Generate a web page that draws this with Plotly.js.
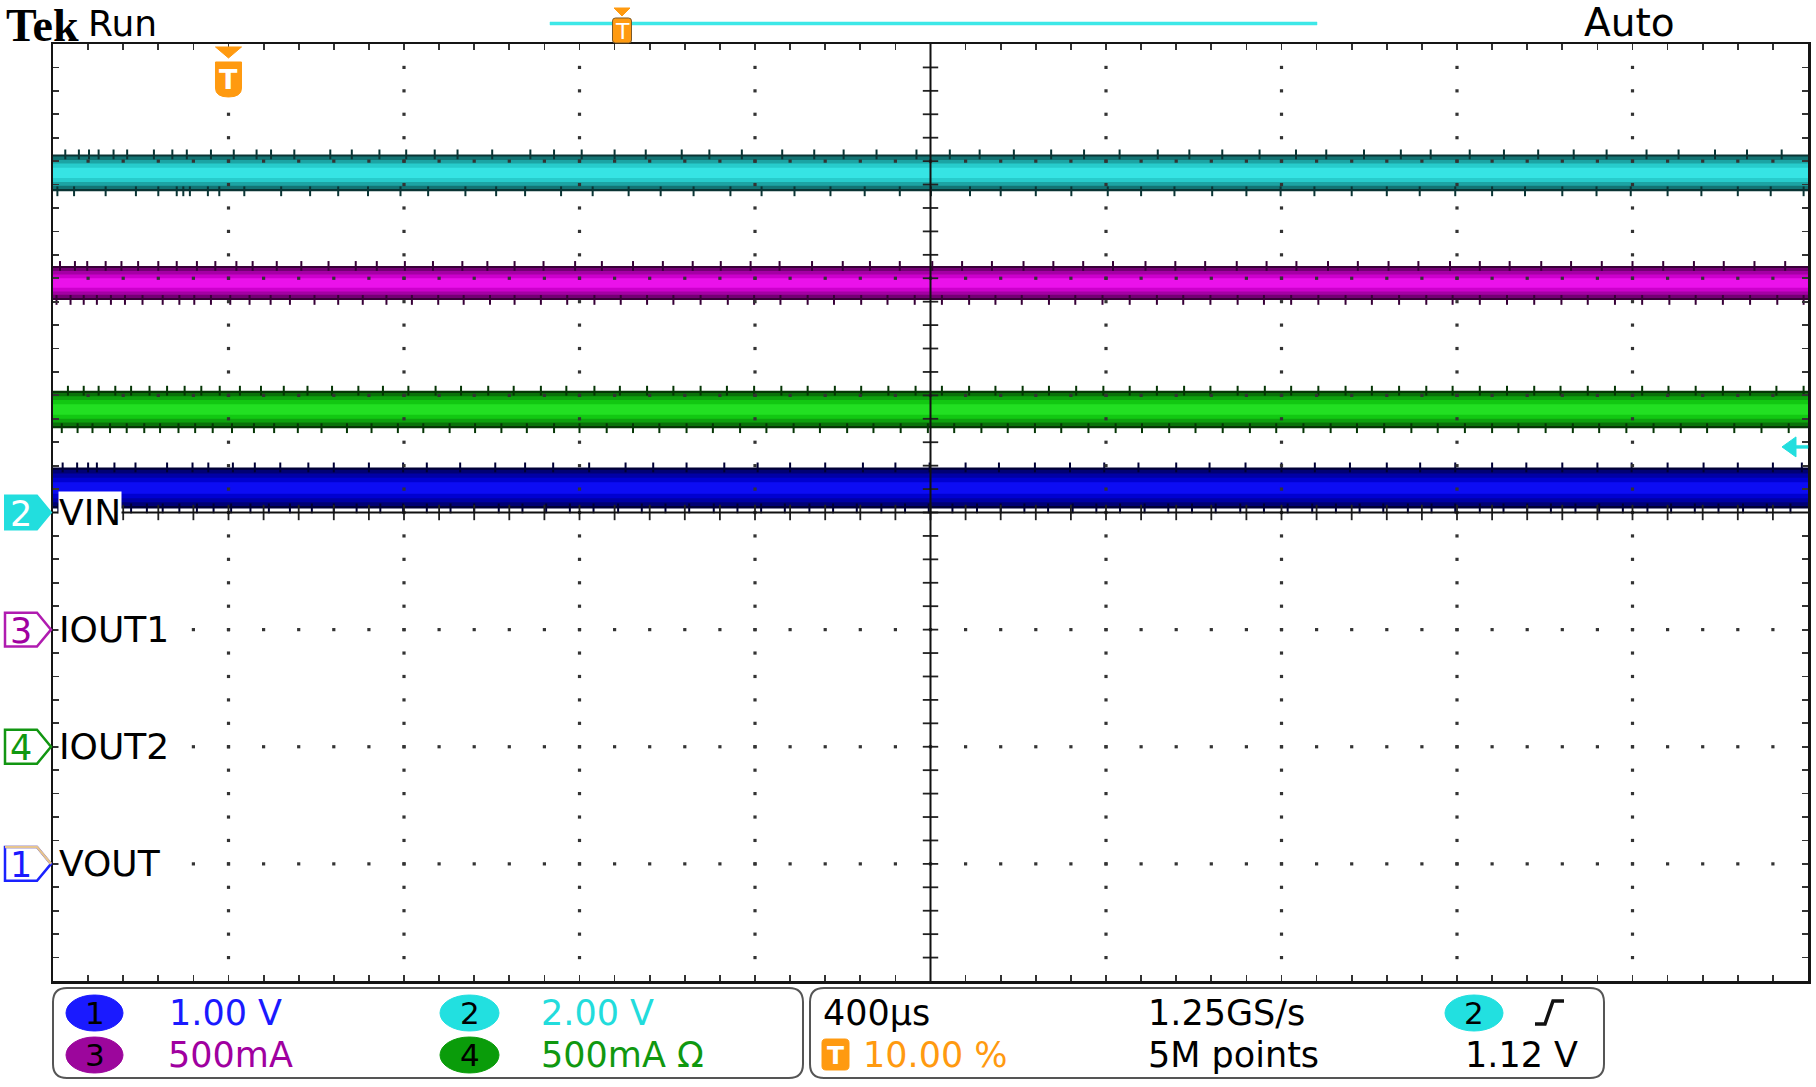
<!DOCTYPE html>
<html><head><meta charset="utf-8">
<script src="https://cdn.plot.ly/plotly-3.0.1.min.js"></script>
<style>html,body{margin:0;padding:0;background:#fff;}#chart{width:1816px;height:1087px;}</style>
</head><body><div id="chart"></div>
<script>
// ---------------- DATA ----------------
const channelLabels = ['VIN', 'IOUT1', 'IOUT2', 'VOUT'];
const channelNumbers = [2, 3, 4, 1];
const channelScale = [2.00, 0.5, 0.5, 1.00];      // units per division
const channelScaleText = ['2.00 V', '500mA', '500mA Ω', '1.00 V'];
const channelOffsetDiv = [0, -1, -2, -3];         // ground reference marker (div)
const channelMean = [5.80, 1.48, 1.44, 3.21];     // V, A, A, V
const channelPkPk = [0.63, 0.145, 0.16, 0.35];    // peak-to-peak noise band
const timePerDiv = 400;                           // µs / div
const triggerPercent = 10.00;
const triggerLevel = 1.12;                        // V on CH2
const sampleRateText = '1.25GS/s';
const recordText = '5M points';

// noise spike positions (µs) on the upper / lower edge of each band
const vinSpikesTop = [-372,-341,-318,-296,-262,-231,-170,-128,-95,-40,12,64,97,150,232,281,344,405,470,522,601,688,742,805,880,951,1033,1096,1170,1262,1335,1402,1477,1568,1644,1712,1790,1875,1950,2031,2118,2190,2265,2350,2433,2502,2588,2672,2740,2829,2907,2985,3066,3141,3232,3305,3388,3461,3540];
const vinSpikesBot = [-390,-352,-280,-211,-160,-118,-103,-88,-47,-21,36,120,186,250,318,392,455,540,610,676,758,830,912,985,1060,1144,1215,1290,1372,1450,1530,1601,1690,1760,1840,1921,2004,2080,2156,2242,2320,2398,2475,2560,2640,2715,2796,2880,2955,3040,3118,3196,3280,3357,3440,3515,3590];
const iout1SpikesTop = [-384,-350,-322,-280,-244,-206,-160,-118,-72,-30,18,55,110,166,228,290,338,402,466,533,590,652,718,790,851,922,990,1058,1122,1190,1256,1330,1400,1462,1530,1604,1672,1740,1812,1880,1948,2016,2090,2158,2226,2298,2366,2434,2506,2574,2644,2712,2784,2852,2920,2992,3060,3130,3200,3270,3340,3408,3478,3548];
const iout1SpikesBot = [-392,-360,-330,-300,-268,-236,-196,-150,-112,-78,-40,4,48,96,140,196,250,306,360,418,478,536,596,652,712,772,834,894,954,1014,1076,1138,1198,1258,1320,1380,1442,1502,1564,1626,1688,1748,1808,1870,1930,1992,2054,2116,2176,2238,2300,2360,2422,2484,2546,2606,2668,2730,2790,2852,2914,2976,3038,3098,3160,3222,3284,3344,3406,3468,3530,3590];
const iout2SpikesTop = [-366,-330,-296,-258,-222,-180,-140,-100,-62,-20,26,74,126,180,236,296,352,410,472,530,592,650,712,770,834,892,954,1014,1076,1136,1198,1260,1320,1382,1442,1504,1566,1626,1688,1748,1810,1870,1932,1994,2054,2116,2178,2238,2300,2362,2422,2484,2546,2606,2668,2730,2790,2852,2914,2976,3036,3098,3160,3222,3282,3344,3406,3468,3528,3590];
const iout2SpikesBot = [-380,-344,-310,-270,-232,-192,-156,-114,-76,-36,8,58,104,158,212,270,326,386,444,504,562,622,680,742,800,862,922,982,1044,1104,1166,1226,1288,1348,1410,1470,1532,1594,1654,1716,1776,1838,1898,1960,2022,2082,2144,2204,2266,2328,2388,2450,2512,2572,2634,2696,2756,2818,2880,2940,3002,3064,3124,3186,3248,3310,3370,3432,3494,3556];
const voutSpikesTop = [-378,-345,-320,-300,-260,-212,-140,-82,-46,10,60,118,182,240,320,398,452,528,608,676,740,822,905,968,1044,1130,1206,1280,1360,1446,1520,1598,1680,1756,1838,1918,1996,2074,2160,2236,2318,2400,2476,2556,2640,2716,2796,2880,2958,3040,3120,3198,3280,3362,3440,3520,3586];
const voutSpikesBot = [-388,-356,-328,-296,-258,-222,-186,-150,-112,-72,-34,6,50,92,140,190,240,292,346,398,452,506,560,616,670,724,778,832,888,942,996,1050,1106,1160,1214,1268,1324,1378,1432,1488,1542,1596,1650,1706,1760,1814,1868,1924,1978,2032,2088,2142,2196,2250,2306,2360,2414,2470,2524,2578,2632,2688,2742,2796,2852,2906,2960,3014,3070,3124,3178,3234,3288,3342,3396,3452,3506,3560];
const spikeSets = [[vinSpikesTop, vinSpikesBot], [iout1SpikesTop, iout1SpikesBot], [iout2SpikesTop, iout2SpikesBot], [voutSpikesTop, voutSpikesBot]];

// ---------------- STYLE ----------------
const FONT = 'DejaVu Sans, Verdana, sans-serif';
const PLOT_L = 53, PLOT_R = 1808, PLOT_T = 44, PLOT_B = 981;
const PX = px => (px - PLOT_L) / (PLOT_R - PLOT_L);
const PY = py => (PLOT_B - py) / (PLOT_B - PLOT_T);
const NX = 10, NY = 8, MINOR = 5;
const divPx = (PLOT_B - PLOT_T) / NY;

const chColor = ['#22dede', '#b01cb0', '#129612', '#1a22ff'];
const chText = ['#22dcdc', '#a000a0', '#109810', '#1a1aff'];
const badgeColor = ['#22e0e0', '#9c069c', '#0a9c0a', '#1a1aff'];
const bandColors = [
  ['#0a3434', '#137474', '#1ca4a4', '#27cccc', '#36e4e4'],
  ['#380038', '#740074', '#a400a4', '#cc00cc', '#ea12ea'],
  ['#053605', '#0a720a', '#0ea20e', '#12c812', '#22e022'],
  ['#000036', '#000074', '#0000a6', '#0000d0', '#0c0cf4']
];
const layerFrac = [1.0, 0.88, 0.7, 0.5, 0.28];

const tStart = -(triggerPercent / 100) * NX * timePerDiv;
const tEnd = tStart + NX * timePerDiv;
const tCenter = tStart + NX / 2 * timePerDiv;

const traces = [];
// waveform bands
channelMean.forEach((mean, i) => {
  const m = mean / channelScale[i] + channelOffsetDiv[i];
  const h = channelPkPk[i] / channelScale[i] / 2;
  layerFrac.forEach((f, k) => {
    traces.push({type: 'scatter', mode: 'lines', x: [tStart, tEnd, tEnd, tStart, tStart],
      y: [m + h * f, m + h * f, m - h * f, m - h * f, m + h * f],
      fill: 'toself', fillcolor: bandColors[i][k], line: {width: 0}, hoverinfo: 'skip'});
  });
  spikeSets[i].forEach((arr, s) => {
    traces.push({type: 'scatter', mode: 'markers', x: arr, y: arr.map(() => s === 0 ? m + h : m - h),
      marker: {symbol: 'line-ns-open', size: 7, color: bandColors[i][0], line: {width: 2, color: bandColors[i][0]}}, hoverinfo: 'skip'});
  });
});

// graticule dots along major division lines
const gx = [], gy = [];
for (let i = 1; i < NX; i++) {
  if (i === NX / 2) continue;
  for (let j = 1; j < NY * MINOR; j++) { gx.push(tStart + i * timePerDiv); gy.push(-NY / 2 + j / MINOR); }
}
for (let j = 1; j < NY; j++) {
  if (j === NY / 2) continue;
  for (let i = 1; i < NX * MINOR; i++) { gx.push(tStart + i * timePerDiv / MINOR); gy.push(-NY / 2 + j); }
}
traces.push({type: 'scatter', mode: 'markers', x: gx, y: gy,
  marker: {symbol: 'square', size: 3.2, color: '#333333'}, hoverinfo: 'skip'});
// ticks on the centre crosshair
const cxh = [], cyh = [];
for (let i = 1; i < NX * MINOR; i++) { cxh.push(tStart + i * timePerDiv / MINOR); cyh.push(0); }
traces.push({type: 'scatter', mode: 'markers', x: cxh, y: cyh,
  marker: {symbol: 'line-ns-open', size: 11, color: '#222', line: {width: 1.8, color: '#222'}}, hoverinfo: 'skip'});
const cxv = [], cyv = [];
for (let j = 1; j < NY * MINOR; j++) { cxv.push(tCenter); cyv.push(-NY / 2 + j / MINOR); }
traces.push({type: 'scatter', mode: 'markers', x: cxv, y: cyv,
  marker: {symbol: 'line-ew-open', size: 11, color: '#222', line: {width: 1.8, color: '#222'}}, hoverinfo: 'skip'});

// ---------------- SHAPES ----------------
const shapes = [];
const P = (x, y) => PX(x).toFixed(5) + ',' + PY(y).toFixed(5);
function roundRect(x0, y0, x1, y1, r) {
  return 'M' + P(x0 + r, y0) + ' L' + P(x1 - r, y0) + ' Q' + P(x1, y0) + ' ' + P(x1, y0 + r) +
    ' L' + P(x1, y1 - r) + ' Q' + P(x1, y1) + ' ' + P(x1 - r, y1) + ' L' + P(x0 + r, y1) +
    ' Q' + P(x0, y1) + ' ' + P(x0, y1 - r) + ' L' + P(x0, y0 + r) + ' Q' + P(x0, y0) + ' ' + P(x0 + r, y0) + ' Z';
}
const shp = (path, fill, line, w) => shapes.push({type: 'path', xref: 'paper', yref: 'paper', path: path,
  fillcolor: fill, line: {color: line, width: w}, layer: 'above'});

// centre crosshair
shapes.push({type: 'line', xref: 'paper', yref: 'paper', x0: 0.5, x1: 0.5, y0: 0, y1: 1, line: {color: '#111', width: 2}});
shapes.push({type: 'line', xref: 'paper', yref: 'paper', x0: 0, x1: 1, y0: 0.5, y1: 0.5, line: {color: '#111', width: 2}});

// channel ground markers on the left
channelOffsetDiv.forEach((d, i) => {
  const yc = PLOT_T + (NY / 2 - d) * divPx;
  const path = 'M' + P(5, yc - 17) + ' L' + P(37, yc - 17) + ' L' + P(51, yc) + ' L' + P(37, yc + 17) + ' L' + P(5, yc + 17) + ' Z';
  if (i === 0) shp(path, chColor[i], chColor[i], 2);
  else shp(path, 'white', chColor[i], 2.5);
  if (i === 3) shp('M' + P(5, yc - 17) + ' L' + P(37, yc - 17) + ' L' + P(51, yc), 'rgba(0,0,0,0)', '#e6c48e', 2.5);
});

// trigger level arrow (right edge)
const yTrigPx = PLOT_T + (NY / 2 - (triggerLevel / channelScale[0] + channelOffsetDiv[0])) * divPx;
shp('M' + P(1782, yTrigPx) + ' L' + P(1796, yTrigPx - 10) + ' L' + P(1796, yTrigPx + 10) + ' Z', chColor[0], chColor[0], 1);
shp('M' + P(1795, yTrigPx - 1.5) + ' L' + P(1808, yTrigPx - 1.5) + ' L' + P(1808, yTrigPx + 1.5) + ' L' + P(1795, yTrigPx + 1.5) + ' Z', chColor[0], chColor[0], 0.5);

// trigger position marker on graticule
const xTrigPx = PLOT_L + (0 - tStart) / (tEnd - tStart) * (PLOT_R - PLOT_L);
const ORANGE = '#ff9a10';
shp('M' + P(xTrigPx - 13, 47) + ' L' + P(xTrigPx + 13, 47) + ' L' + P(xTrigPx, 58) + ' Z', ORANGE, ORANGE, 1);
shp('M' + P(xTrigPx - 13, 62) + ' L' + P(xTrigPx + 13, 62) + ' L' + P(xTrigPx + 13, 88) + ' Q' + P(xTrigPx + 13, 97) + ' ' + P(xTrigPx, 97) +
  ' Q' + P(xTrigPx - 13, 97) + ' ' + P(xTrigPx - 13, 88) + ' Z', ORANGE, ORANGE, 1);

// record view bar (top)
const barL = 550, barR = 1317;
shp('M' + P(barL, 22) + ' L' + P(barR, 22) + ' L' + P(barR, 25) + ' L' + P(barL, 25) + ' Z', '#3ee8e8', '#3ee8e8', 0.5);
const recTrigPx = 622;
shp('M' + P(recTrigPx - 8, 8) + ' L' + P(recTrigPx + 8, 8) + ' L' + P(recTrigPx, 16) + ' Z', ORANGE, ORANGE, 1);
shp(roundRect(recTrigPx - 9.5, 18, recTrigPx + 9.5, 43, 3), ORANGE, '#7a5a2a', 1);

// bottom readout boxes
shp(roundRect(53, 988, 803, 1078, 14), 'rgba(0,0,0,0)', '#555', 2);
shp(roundRect(810, 988, 1604, 1078, 14), 'rgba(0,0,0,0)', '#555', 2);
const badgeCirc = (x0, y0, x1, y1, c) => shapes.push({type: 'circle', xref: 'paper', yref: 'paper',
  x0: PX(x0), x1: PX(x1), y0: PY(y1), y1: PY(y0), fillcolor: c, line: {color: c, width: 1}, layer: 'above'});
const ROW1 = 1013, ROW2 = 1055;
badgeCirc(66, ROW1 - 18, 123, ROW1 + 18, badgeColor[3]);
badgeCirc(440, ROW1 - 18, 499, ROW1 + 18, badgeColor[0]);
badgeCirc(66, ROW2 - 18, 123, ROW2 + 18, badgeColor[1]);
badgeCirc(440, ROW2 - 18, 499, ROW2 + 18, badgeColor[2]);
badgeCirc(1445, ROW1 - 18, 1503, ROW1 + 18, badgeColor[0]);
shp(roundRect(822, ROW2 - 16, 849, ROW2 + 15, 4), ORANGE, ORANGE, 1);
// rising-edge trigger slope symbol
shp('M' + P(1535, 1024) + ' L' + P(1545, 1024) + ' L' + P(1553, 1001) + ' L' + P(1564, 1001), 'rgba(0,0,0,0)', '#111', 3.5);

// ---------------- ANNOTATIONS ----------------
const ann = [];
const txt = (x, y, s, size, color, opts) => ann.push(Object.assign({xref: 'paper', yref: 'paper', x: PX(x), y: PY(y),
  text: s, showarrow: false, xanchor: 'left', yanchor: 'middle', font: {family: FONT, size: size, color: color}}, opts || {}));

txt(4, 25, '<b>Tek</b>', 46, '#000', {font: {family: 'Liberation Serif, Times New Roman, serif', size: 46, color: '#000'}});
txt(86, 24, 'Run', 36, '#000');
txt(1582, 23, 'Auto', 39, '#000');

// channel labels
channelLabels.forEach((lab, i) => {
  const yc = PLOT_T + (NY / 2 - channelOffsetDiv[i]) * divPx;
  txt(21, yc + 1, String(channelNumbers[i]), 35, i === 0 ? '#ffffff' : chText[i], {xanchor: 'center'});
  txt(58, yc, lab, 36, '#000', {bgcolor: '#ffffff', borderpad: 0});
});

// trigger "T" glyphs
txt(xTrigPx, 79, '<b>T</b>', 27, '#fff', {xanchor: 'center'});
txt(recTrigPx, 31, 'T', 22, '#fff', {xanchor: 'center'});
txt(835.5, ROW2, '<b>T</b>', 25, '#fff', {xanchor: 'center'});

// readouts
const RF = 35;
txt(94.5, ROW1, String(channelNumbers[3]), 31, '#000', {xanchor: 'center'});
txt(167, ROW1, channelScaleText[3], RF, chText[3]);
txt(469.5, ROW1, String(channelNumbers[0]), 31, '#000', {xanchor: 'center'});
txt(539, ROW1, channelScaleText[0], RF, chText[0]);
txt(94.5, ROW2, String(channelNumbers[1]), 31, '#000', {xanchor: 'center'});
txt(166, ROW2, channelScaleText[1], RF, chText[1]);
txt(469.5, ROW2, String(channelNumbers[2]), 31, '#000', {xanchor: 'center'});
txt(539, ROW2, channelScaleText[2], RF, chText[2]);
txt(821, ROW1, timePerDiv + 'µs', RF, '#000');
txt(861, ROW2, triggerPercent.toFixed(2) + ' %', RF, ORANGE);
txt(1146, ROW1, sampleRateText, RF, '#000');
txt(1146, ROW2, recordText, RF, '#000');
txt(1474, ROW1, String(channelNumbers[0]), 31, '#000', {xanchor: 'center'});
txt(1580, ROW2, triggerLevel.toFixed(2) + ' V', RF, '#000', {xanchor: 'right'});

// ---------------- LAYOUT ----------------
const axisCommon = {showgrid: false, zeroline: false, showticklabels: false, ticks: 'inside',
  ticklen: 6, tickwidth: 1.8, tickcolor: '#333', showline: true, linecolor: '#151515', linewidth: 2.5,
  mirror: 'ticks', fixedrange: true};
const layout = {
  width: 1816, height: 1087,
  margin: {l: PLOT_L, r: 1816 - PLOT_R, t: PLOT_T, b: 1087 - PLOT_B, pad: 0},
  paper_bgcolor: '#ffffff', plot_bgcolor: '#ffffff', showlegend: false, hovermode: false,
  xaxis: Object.assign({}, axisCommon, {range: [tStart, tEnd], tick0: tStart, dtick: timePerDiv / MINOR}),
  yaxis: Object.assign({}, axisCommon, {range: [-NY / 2, NY / 2], tick0: -NY / 2, dtick: 1 / MINOR}),
  shapes: shapes, annotations: ann
};
Plotly.newPlot('chart', traces, layout, {displayModeBar: false, staticPlot: true});
</script></body></html>
